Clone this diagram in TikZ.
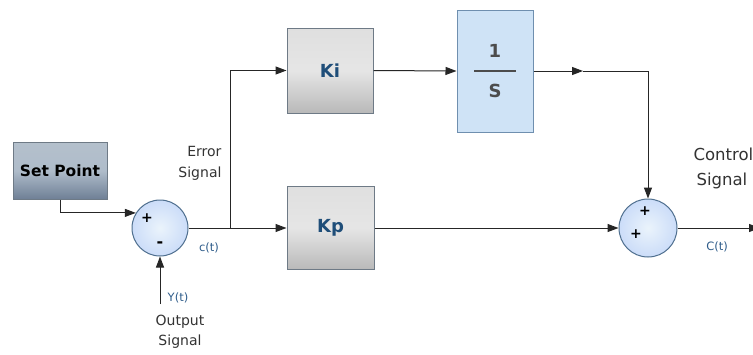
\documentclass[tikz,border=0pt]{standalone}
\usepackage{fontspec}
\setmainfont{DejaVu Sans}
\usetikzlibrary{arrows.meta}
\definecolor{boxedge}{HTML}{6E7A86}
\definecolor{gaintext}{HTML}{1F4E79}
\definecolor{sumfill}{HTML}{D6E8F8}
\definecolor{sumedge}{HTML}{4F6F8F}
\definecolor{intfill}{HTML}{CFE3F6}
\definecolor{intedge}{HTML}{6F8FAF}
\definecolor{sigtext}{HTML}{2E5C8A}
\definecolor{spt}{HTML}{B4C0CC}
\definecolor{spm}{HTML}{AFBCCA}
\definecolor{spb}{HTML}{6F8096}
\tikzset{
  spbox/.style={draw=boxedge, line width=1pt, minimum width=94pt, minimum height=57pt,
    top color=spt, bottom color=spb, middle color=spm,
    font=\fontsize{15.5}{18}\selectfont\bfseries, inner sep=0pt},
  gainbox/.style={draw=boxedge, line width=1pt, inner sep=0pt,
    top color=gray!25, bottom color=gray!55, middle color=gray!20,
    text=gaintext, font=\fontsize{18}{20}\selectfont\bfseries},
  intbox/.style={draw=intedge, line width=1pt, fill=intfill, minimum width=76pt, minimum height=122pt},
  sumnode/.style={circle, draw=sumedge, line width=1pt, inner sep=0pt,
    inner color=sumfill!50, outer color=sumfill!95!blue},
  arr/.style={-{Triangle[length=11pt,width=8pt]}, line width=1pt, draw=black!85},
  lbl/.style={font=\fontsize{14}{21}\selectfont, text=black!80, align=center},
  sig/.style={font=\fontsize{11.5}{12}\selectfont, text=sigtext},
  sgn/.style={font=\fontsize{14}{14}\selectfont\bfseries, inner sep=0pt},
  frac/.style={font=\fontsize{18}{18}\selectfont\bfseries, text=black!70}
}
\begin{document}
\begin{tikzpicture}[x=1pt,y=-1pt]
\useasboundingbox[fill=white] (0,0) rectangle (753,354);
% blocks
\node[spbox] (sp) at (60,170.5) {Set Point};
\node[sumnode, minimum size=56pt] (s1) at (160,228) {};
\node[gainbox, minimum width=86pt, minimum height=85pt] (ki) at (330,70.5) {Ki};
\node[intbox] (int) at (495,71) {};
\node[gainbox, minimum width=87pt, minimum height=83pt] (kp) at (330.5,228) {Kp};
\node[sumnode, minimum size=58pt] (s2) at (648,228) {};
% integrator fraction
\draw[line width=1.8pt, draw=black!70] ([xshift=-21pt]int.center) -- ([xshift=21pt]int.center);
\node[frac] (one) at ([yshift=20pt]int.center) {1};
\node[frac] (ess) at ([yshift=-20pt]int.center) {S};
% signs
\node[sgn] (p1) at (147,218) {+};
\node[sgn, font=\fontsize{16}{16}\selectfont\bfseries] (m1) at (160,245) {-};
\node[sgn] (p2) at (645,211) {+};
\node[sgn] (p3) at (636,234) {+};
% coordinates
\coordinate (yo) at (160,304);
\coordinate (br) at (230,228);
\coordinate (ma) at (583,71);
\coordinate (out) at (760,228);
% connectors
\draw[arr] (sp.south) |- (s1.148);
\draw[arr] (yo) -- (s1.south);
\draw[arr] (s1.east) -- (kp.west);
\draw[arr] (br) |- (ki.west);
\draw[arr] (ki.east) -- (int.west);
\draw[arr] (int.east) -- (ma);
\draw[arr] (ma) -| (s2.north);
\draw[arr] (kp.east) -- (s2.west);
\draw[arr] (s2.east) -- (out);
% labels
\node[lbl, align=right, anchor=east] (err) at (225,163) {Error\\Signal};
\node[sig] (ct) at (209,248) {c(t)};
\node[sig] (yt) at (178,298) {Y(t)};
\node[lbl, font=\fontsize{14}{20}\selectfont] (os) at (180,332) {Output\\Signal};
\node[lbl, align=left, anchor=west, font=\fontsize{16.5}{25}\selectfont] (cs) at (690,168) {Control\\\hspace*{3pt}Signal};
\node[sig] (Ct) at (717,247) {C(t)};
\end{tikzpicture}
\end{document}
